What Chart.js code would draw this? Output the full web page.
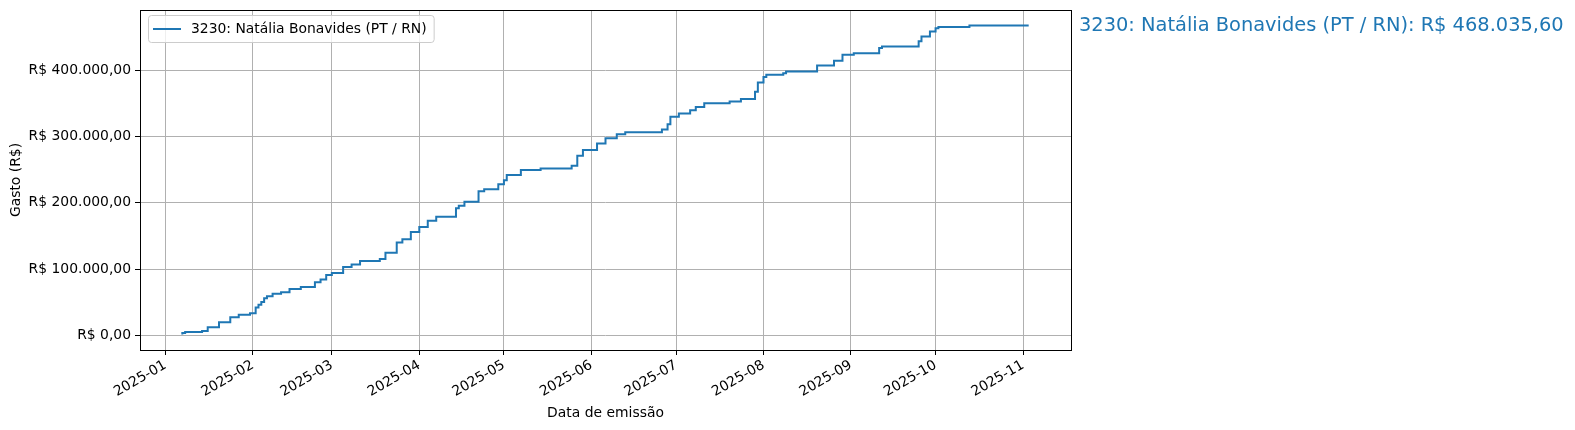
<!DOCTYPE html>
<html lang="pt-BR">
<head>
    <meta charset="UTF-8">
    <title>Gasto acumulado</title>
    <script src="https://cdn.jsdelivr.net/npm/chart.js"></script>
    <style>
        html, body { margin: 0; padding: 0; background: #fff; }
        #wrap { width: 1575px; height: 430px; }
    </style>
</head>
<body>
<div id="wrap"><canvas id="gastoChart" width="1575" height="430"></canvas></div>

<script>
    // Datas das notas (passo) e gasto acumulado em R$
    const dates = [
        "2025-01-07", "2025-01-08", "2025-01-14", "2025-01-16", "2025-01-20", "2025-01-24",
        "2025-01-27", "2025-01-31", "2025-02-02", "2025-02-03", "2025-02-04", "2025-02-05",
        "2025-02-06", "2025-02-08", "2025-02-11", "2025-02-14", "2025-02-18", "2025-02-23",
        "2025-02-25", "2025-02-27", "2025-03-01", "2025-03-05", "2025-03-08", "2025-03-11",
        "2025-03-18", "2025-03-20", "2025-03-24", "2025-03-26", "2025-03-29", "2025-04-01",
        "2025-04-04", "2025-04-07", "2025-04-14", "2025-04-15", "2025-04-17", "2025-04-22",
        "2025-04-24", "2025-04-29", "2025-05-01", "2025-05-02", "2025-05-07", "2025-05-14",
        "2025-05-25", "2025-05-27", "2025-05-29", "2025-06-03", "2025-06-06", "2025-06-10",
        "2025-06-13", "2025-06-26", "2025-06-28", "2025-06-29", "2025-07-02", "2025-07-06",
        "2025-07-08", "2025-07-11", "2025-07-20", "2025-07-24", "2025-07-29", "2025-07-30",
        "2025-08-01", "2025-08-02", "2025-08-08", "2025-08-09", "2025-08-20", "2025-08-26",
        "2025-08-29", "2025-09-02", "2025-09-11", "2025-09-12", "2025-09-25", "2025-09-26",
        "2025-09-29", "2025-10-01", "2025-10-02", "2025-10-13", "2025-10-14", "2025-11-03"
    ];
    const gasto = [
        1000, 3500, 5000, 6500, 12000, 19500,
        27000, 31000, 33000, 42000, 46000, 50000,
        56000, 59000, 62500, 65000, 70000, 73000,
        80000, 84000, 91000, 94000, 103000, 107000,
        112000, 115000, 124700, 140000, 145000, 156000,
        163600, 173000, 178800, 192000, 195500, 201500,
        217700, 220700, 228000, 234300, 242000, 249500,
        252000, 256000, 271000, 279800, 289800, 297500,
        303500, 306500, 311000, 318600, 330000, 335000,
        340000, 345000, 350500, 353000, 357000, 368000,
        382000, 390000, 393500, 396000, 398500, 407600,
        414700, 423800, 426200, 433800, 436400, 444000,
        451500, 459000, 464000, 465600, 468000, 468035.60
    ];
    const monthTicks = ["2025-01", "2025-02", "2025-03", "2025-04", "2025-05", "2025-06",
                        "2025-07", "2025-08", "2025-09", "2025-10", "2025-11"];
    const yTicks = [0, 100000, 200000, 300000, 400000];
    const seriesLabel = "3230: Natália Bonavides (PT / RN)";
    const total = 468035.60;

    const FONT = "'DejaVu Sans', sans-serif";
    const BLUE = "#1f77b4";

    // dias desde 2025-01-01
    function dayNum(s) {
        const p = s.split("-").map(Number);
        return (Date.UTC(p[0], p[1] - 1, p[2] || 1) - Date.UTC(2025, 0, 1)) / 86400000;
    }
    const tickDays = monthTicks.map(dayNum);

    function brl(v) {
        const neg = v < 0;
        v = Math.abs(v);
        let [int, dec] = v.toFixed(2).split(".");
        int = int.replace(/\B(?=(\d{3})+(?!\d))/g, ".");
        return "R$ " + (neg ? "-" : "") + int + "," + dec;
    }

    const points = dates.map((d, i) => ({ x: dayNum(d), y: gasto[i] }));
    const xs = points.map(p => p.x);
    const xSpan = Math.max(...xs) - Math.min(...xs);
    const ySpan = Math.max(...gasto) - Math.min(...gasto);

    // moldura, legenda e texto do total
    const extras = {
        id: "extras",
        afterDraw(chart) {
            const { ctx, chartArea: a } = chart;
            ctx.save();
            ctx.strokeStyle = "#000";
            ctx.lineWidth = 1;
            ctx.strokeRect(Math.round(a.left) + 0.5, Math.round(a.top) + 0.5,
                           Math.round(a.right - a.left), Math.round(a.bottom - a.top));

            // legenda
            ctx.font = "13.9px " + FONT;
            const tw = ctx.measureText(seriesLabel).width;
            const lx = a.left + 8, ly = a.top + 5, lw = tw + 50, lh = 27;
            ctx.beginPath();
            ctx.roundRect(lx + 0.5, ly + 0.5, lw, lh, 3);
            ctx.fillStyle = "rgba(255,255,255,0.8)";
            ctx.fill();
            ctx.strokeStyle = "#cccccc";
            ctx.stroke();
            ctx.beginPath();
            ctx.moveTo(lx + 5, ly + lh / 2 + 0.5);
            ctx.lineTo(lx + 33, ly + lh / 2 + 0.5);
            ctx.strokeStyle = BLUE;
            ctx.lineWidth = 2;
            ctx.stroke();
            ctx.fillStyle = "#000";
            ctx.textBaseline = "middle";
            ctx.fillText(seriesLabel, lx + 43, ly + lh / 2 + 1);

            // total à direita
            ctx.font = "19.4px " + FONT;
            ctx.fillStyle = BLUE;
            ctx.textBaseline = "alphabetic";
            ctx.fillText(seriesLabel + ": " + brl(total), a.right + 8, 31);
            ctx.restore();
        }
    };

    const ctx = document.getElementById("gastoChart").getContext("2d");
    new Chart(ctx, {
        type: "line",
        data: {
            datasets: [{
                label: seriesLabel,
                data: points,
                borderColor: BLUE,
                borderWidth: 2,
                stepped: "after",
                pointRadius: 0,
                fill: false
            }]
        },
        options: {
            responsive: false,
            animation: false,
            devicePixelRatio: 1,
            layout: { padding: { top: 10, right: 504, left: 0, bottom: 0 } },
            plugins: {
                legend: { display: false },
                tooltip: { enabled: false }
            },
            scales: {
                x: {
                    type: "linear",
                    min: Math.min(...xs) - 0.05 * xSpan,
                    max: Math.max(...xs) + 0.05 * xSpan,
                    afterBuildTicks: s => { s.ticks = tickDays.map(v => ({ value: v })); },
                    afterFit: s => {
                        s.height = 80;
                        s.paddingLeft = 0; s.paddingRight = 0;
                    },
                    ticks: {
                        callback: (v, i) => monthTicks[i],
                        color: "#000",
                        font: { family: FONT, size: 13.9 },
                        minRotation: 30,
                        maxRotation: 30,
                        padding: 2
                    },
                    grid: { color: "#b0b0b0", lineWidth: 1, tickColor: "#000", tickLength: 5 },
                    border: { display: false },
                    title: {
                        display: true,
                        text: "Data de emissão",
                        color: "#000",
                        font: { family: FONT, size: 13.9 },
                        padding: { top: 0, bottom: 8 }
                    }
                },
                y: {
                    min: Math.min(...gasto) - 0.05 * ySpan,
                    max: Math.max(...gasto) + 0.05 * ySpan,
                    afterBuildTicks: s => { s.ticks = yTicks.map(v => ({ value: v })); },
                    afterFit: s => {
                        s.width = 140;
                        s.paddingTop = 0; s.paddingBottom = 0;
                    },
                    ticks: {
                        callback: v => brl(v),
                        color: "#000",
                        font: { family: FONT, size: 13.9 },
                        padding: 4
                    },
                    grid: { color: "#b0b0b0", lineWidth: 1, tickColor: "#000", tickLength: 5 },
                    border: { display: false },
                    title: {
                        display: true,
                        text: "Gasto (R$)",
                        color: "#000",
                        font: { family: FONT, size: 13.9 },
                        padding: { top: 8, bottom: 0 }
                    }
                }
            }
        },
        plugins: [extras]
    });
</script>
</body>
</html>
